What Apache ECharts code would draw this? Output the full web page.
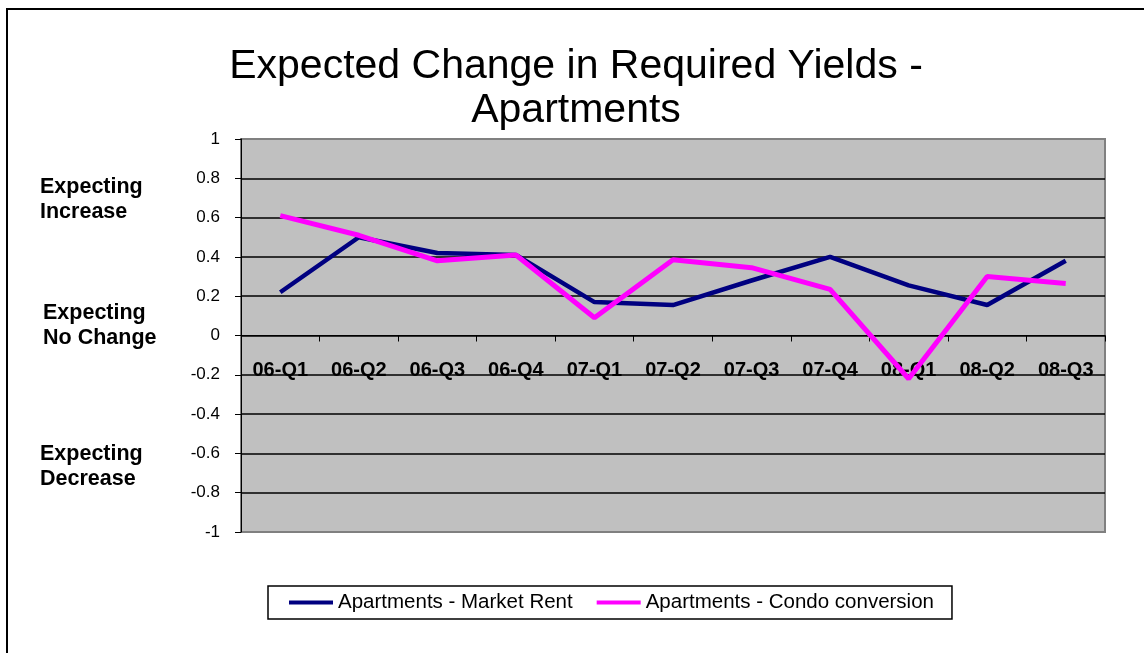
<!DOCTYPE html>
<html>
<head>
  <meta charset="UTF-8">
  <title>Expected Change in Required Yields - Apartments</title>
  <script src="https://cdn.jsdelivr.net/npm/echarts@6/dist/echarts.min.js"></script>
  <style>
    html, body { margin: 0; padding: 0; background: #fff; }
    #main { width: 1144px; height: 653px; }
  </style>
</head>
<body>
<div id="main"></div>
<script type="text/javascript">
  // quarters on the category axis
  var quarters = ['06-Q1', '06-Q2', '06-Q3', '06-Q4', '07-Q1', '07-Q2',
    '07-Q3', '07-Q4', '08-Q1', '08-Q2', '08-Q3'];
  // values
  var marketRent = [0.22, 0.50, 0.42, 0.41, 0.17, 0.155, 0.28, 0.40, 0.255, 0.155, 0.38];
  var condoConversion = [0.61, 0.51, 0.38, 0.41, 0.09, 0.385, 0.345, 0.235, -0.22, 0.30, 0.265];
  var seriesNames = ['Apartments - Market Rent', 'Apartments - Condo conversion'];
  var sideLabels = ['Expecting\nIncrease', 'Expecting\nNo Change', 'Expecting\nDecrease'];

  var font = 'Liberation Sans, Arial, sans-serif';
  var gridTop = 139, gridBottom = 121;
  var plotH = 653 - gridTop - gridBottom;
  var myChart = echarts.init(document.getElementById('main'));

  var option = {
    backgroundColor: '#fff',
    animation: false,
    title: {
      text: 'Expected Change in Required Yields -\nApartments',
      left: 571,
      top: 40,
      textAlign: 'center',
      textStyle: {
        fontFamily: font,
        fontSize: 41,
        fontWeight: 'normal',
        lineHeight: 44,
        color: '#000'
      }
    },
    legend: {
      left: 268,
      top: 586,
      data: seriesNames,
      icon: 'rect',
      itemWidth: 44,
      itemHeight: 4,
      itemGap: 24,
      padding: [6, 18, 6, 21],
      borderColor: '#000',
      borderWidth: 1.5,
      textStyle: { fontFamily: font, fontSize: 20.5, color: '#000' }
    },
    grid: {
      left: 241,
      right: 39,
      top: gridTop,
      bottom: gridBottom,
      show: true,
      backgroundColor: '#C0C0C0',
      borderColor: '#808080',
      borderWidth: 2
    },
    xAxis: {
      type: 'category',
      data: quarters,
      boundaryGap: true,
      // category axis crosses at zero, labels travel with it
      offset: -plotH / 2,
      axisLine: { onZero: false, lineStyle: { color: '#000', width: 1 } },
      axisTick: { show: true, length: 6, interval: 0, lineStyle: { color: '#000' } },
      axisLabel: {
        interval: 0,
        margin: 25,
        fontFamily: font,
        fontSize: 20,
        fontWeight: 'bold',
        color: '#000'
      },
      splitLine: { show: false }
    },
    yAxis: {
      type: 'value',
      min: -1,
      max: 1,
      interval: 0.2,
      axisLine: { show: true, lineStyle: { color: '#000', width: 1 } },
      axisTick: { show: true, length: 6, lineStyle: { color: '#000' } },
      axisLabel: {
        margin: 21,
        fontFamily: font,
        fontSize: 17,
        color: '#000'
      },
      splitLine: {
        show: true,
        showMinLine: false,
        showMaxLine: false,
        lineStyle: { color: '#000', width: 1.5 }
      }
    },
    graphic: [
      {
        type: 'rect',
        shape: { x: 7, y: 9, width: 1300, height: 800 },
        style: { fill: 'none', stroke: '#000', lineWidth: 2 }
      },
      {
        type: 'text', left: 40, top: 175,
        style: { text: sideLabels[0], font: 'bold 21.5px ' + font, lineHeight: 25, fill: '#000' }
      },
      {
        type: 'text', left: 43, top: 301,
        style: { text: sideLabels[1], font: 'bold 21.5px ' + font, lineHeight: 25, fill: '#000' }
      },
      {
        type: 'text', left: 40, top: 442,
        style: { text: sideLabels[2], font: 'bold 21.5px ' + font, lineHeight: 25, fill: '#000' }
      }
    ],
    series: [
      {
        name: seriesNames[0],
        type: 'line',
        data: marketRent,
        symbol: 'none',
        color: '#000080',
        lineStyle: { color: '#000080', width: 4.5 },
        z: 3
      },
      {
        name: seriesNames[1],
        type: 'line',
        data: condoConversion,
        symbol: 'none',
        color: '#FF00FF',
        lineStyle: { color: '#FF00FF', width: 5 },
        z: 4
      }
    ]
  };

  myChart.setOption(option);
</script>
</body>
</html>
